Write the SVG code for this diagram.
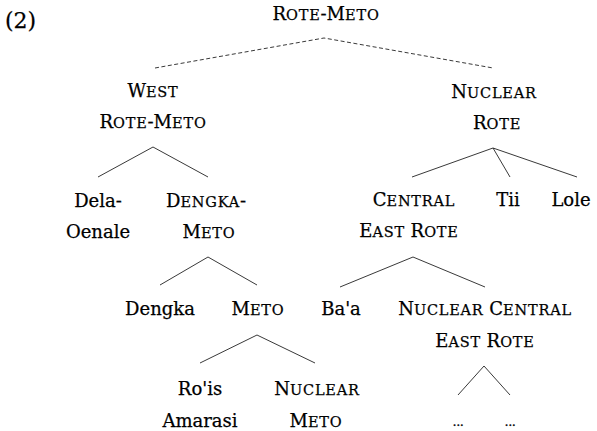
<svg xmlns="http://www.w3.org/2000/svg" width="597" height="431" viewBox="0 0 597 431">
<style>
text{font-family:"DejaVu Serif","Liberation Serif",serif;font-size:18px;fill:#000;stroke:#000;stroke-width:0.25;text-anchor:middle}
.sc{font-size:14.5px;letter-spacing:0.8px}
.dots{font-size:13px;letter-spacing:-0.5px}
.e{stroke:#222;stroke-width:0.9;fill:none}
.d{stroke-dasharray:4 2.5}
</style>
<rect width="597" height="431" fill="#fff"/>
<text x="5" y="28" style="text-anchor:start;font-size:22px">(2)</text>
<g id="connectors">
<polyline class="e d" points="155,68 324,38 493,68"/>
<polyline class="e" points="98,177 153,147 208,177"/>
<polyline class="e" points="412,177 493,148 577,177"/>
<line class="e" x1="493" y1="148" x2="510" y2="177"/>
<polyline class="e" points="160,285 208,257 257,285"/>
<polyline class="e" points="340,287 413,257 485,287"/>
<polyline class="e" points="200,363 257,335 315,363"/>
<polyline class="e" points="458,395 484,366 510,395"/>
</g>
<g id="n-rote-meto"><text x="326" y="20">R<tspan class="sc">OTE</tspan>-M<tspan class="sc">ETO</tspan></text></g>
<g id="n-west"><text x="153" y="97">W<tspan class="sc">EST</tspan></text><text x="153" y="128">R<tspan class="sc">OTE</tspan>-M<tspan class="sc">ETO</tspan></text></g>
<g id="n-nuclear-rote"><text x="494" y="98">N<tspan class="sc">UCLEAR</tspan></text><text x="497" y="129">R<tspan class="sc">OTE</tspan></text></g>
<g id="n-dela"><text x="98" y="207">Dela-</text><text x="98" y="238">Oenale</text></g>
<g id="n-dengka-meto"><text x="206" y="207">D<tspan class="sc">ENGKA</tspan>-</text><text x="209" y="238">M<tspan class="sc">ETO</tspan></text></g>
<g id="n-cer"><text x="414" y="206">C<tspan class="sc">ENTRAL</tspan></text><text x="409" y="237">E<tspan class="sc">AST</tspan> R<tspan class="sc">OTE</tspan></text></g>
<g id="n-tii"><text x="508" y="206">Tii</text></g>
<g id="n-lole"><text x="571" y="206">Lole</text></g>
<g id="n-dengka"><text x="160" y="315">Dengka</text></g>
<g id="n-meto"><text x="258" y="315">M<tspan class="sc">ETO</tspan></text></g>
<g id="n-baa"><text x="341" y="315">Ba'a</text></g>
<g id="n-ncer"><text x="485" y="315">N<tspan class="sc">UCLEAR</tspan> C<tspan class="sc">ENTRAL</tspan></text><text x="485" y="347">E<tspan class="sc">AST</tspan> R<tspan class="sc">OTE</tspan></text></g>
<g id="n-rois"><text x="200" y="395">Ro'is</text><text x="200" y="427">Amarasi</text></g>
<g id="n-nuclear-meto"><text x="317" y="395">N<tspan class="sc">UCLEAR</tspan></text><text x="316" y="427">M<tspan class="sc">ETO</tspan></text></g>
<g id="n-dots1"><text class="dots" x="458" y="426">...</text></g>
<g id="n-dots2"><text class="dots" x="510" y="426">...</text></g>
</svg>
